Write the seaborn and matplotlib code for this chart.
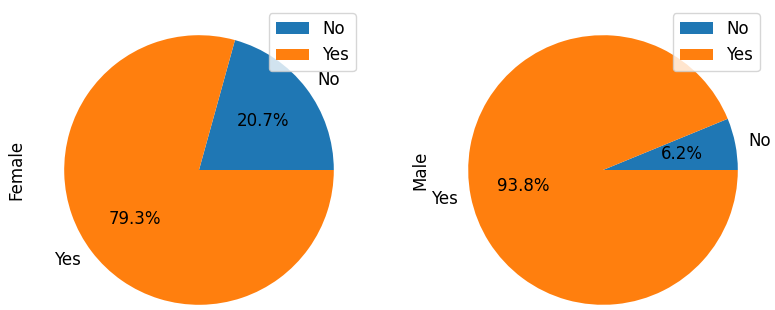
import matplotlib
matplotlib.use("Agg")
import matplotlib.pyplot as plt
import seaborn as sns

# data
answers = ["No", "Yes"]
female_share = [20.7, 79.3]
male_share = [6.2, 93.8]
groups = ["Female", "Male"]

plt.rcParams['font.family'] = ['DejaVu Sans']
plt.rcParams['font.size'] = 12
colors = sns.color_palette("tab10", 2)

W, H = 775, 310
fig = plt.figure(figsize=(W / 100, H / 100), dpi=100)

# pie axes, each spans +-1.25 radius units; radius ~135 px
size = 337
centers = [(199, 140), (603, 140)]
for (cx, cy), name, vals in zip(centers, groups, [female_share, male_share]):
    ax = fig.add_axes([(cx - size / 2) / W, (cy - size / 2) / H, size / W, size / H])
    wedges, _, _ = ax.pie(vals, labels=answers, colors=colors, autopct="%.1f%%",
                          textprops={"fontsize": 12})
    ax.set_ylabel(name, fontsize=12)
    ax.legend(wedges, answers, loc="upper right", fontsize=12,
              bbox_to_anchor=(0.99, 0.99))

fig.savefig("out.png", dpi=100)
